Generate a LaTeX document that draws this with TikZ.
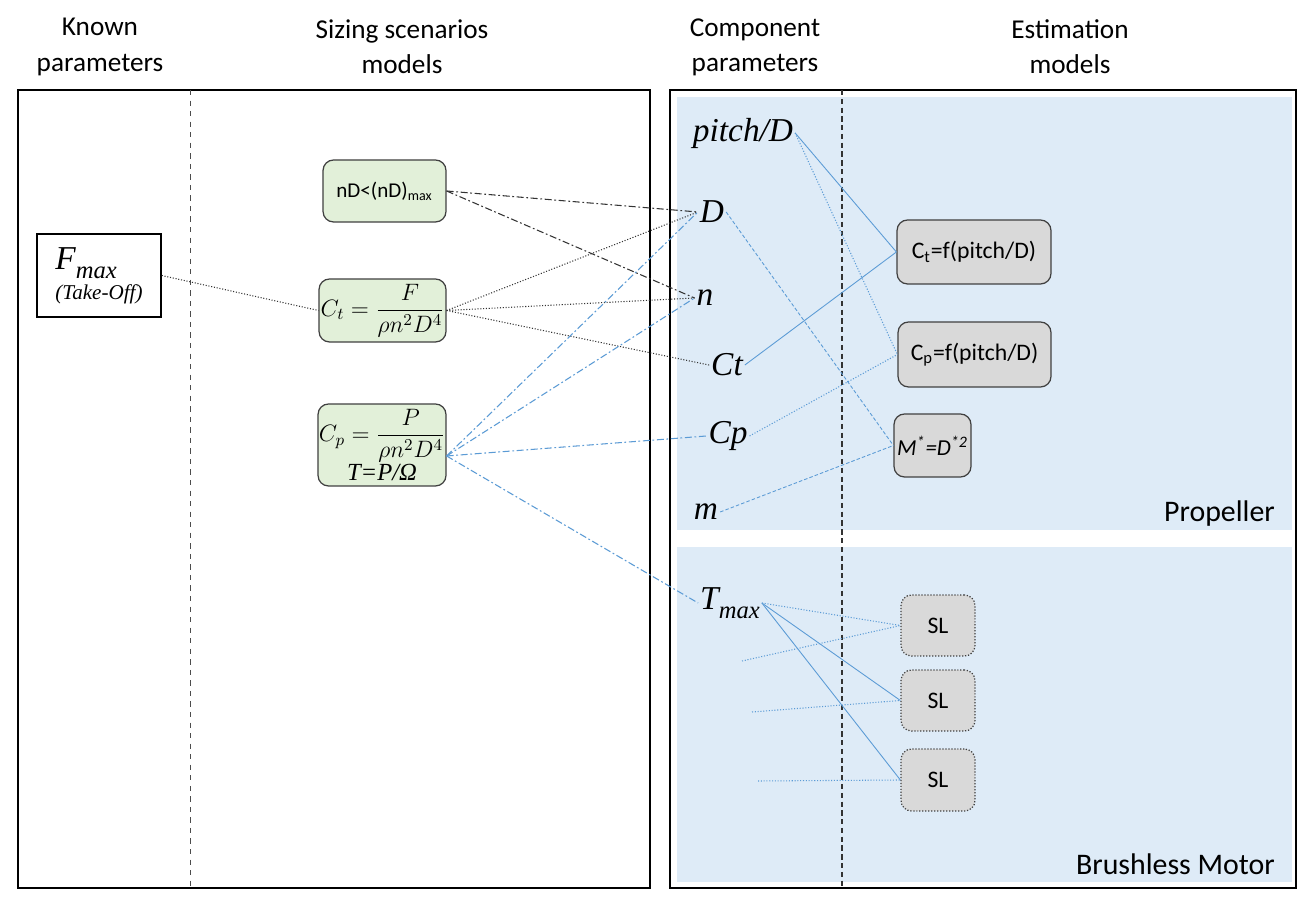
\documentclass[tikz,border=0pt]{standalone}
\usepackage{fix-cm}
\usepackage{fontspec}
\setmainfont{Carlito}
\newfontfamily\tnr{Liberation Serif}
\usetikzlibrary{calc}
\definecolor{panelblue}{HTML}{DEEBF7}
\definecolor{boxgreen}{HTML}{E2F0D9}
\definecolor{boxgray}{HTML}{D9D9D9}
\definecolor{lineblue}{HTML}{5B9BD5}
\tikzset{
  hdr/.style={align=center,font=\fontsize{15.5}{20}\selectfont},
  greenbox/.style={draw=black!75,fill=boxgreen,rounded corners=6pt,line width=0.7pt,inner sep=0pt},
  graybox/.style={draw=black!75,fill=boxgray,rounded corners=6pt,line width=0.7pt,inner sep=0pt,font=\fontsize{13.5}{16}\selectfont},
  slbox/.style={graybox,densely dotted},
  param/.style={font=\tnr\itshape\fontsize{19}{22}\selectfont,inner sep=1pt},
  blk/.style={black!80,densely dotted,line width=0.6pt},
  blkdd/.style={black!80,dash pattern=on 4pt off 1.5pt on 1pt off 1.5pt,line width=0.6pt},
  bluedd/.style={lineblue,dash pattern=on 4pt off 1.5pt on 1pt off 1.5pt,line width=0.6pt},
  bluesolid/.style={lineblue,line width=0.5pt},
  bluedot/.style={lineblue,densely dotted,line width=0.6pt},
  bluedash/.style={lineblue,dash pattern=on 2pt off 1.2pt,line width=0.5pt},
}
\begin{document}
\begin{tikzpicture}[x={(0.02cm,0)},y={(0,-0.02cm)}]
\useasboundingbox[fill=white] (0,0) rectangle (1302,901);
% headers
\node[hdr] (h1) at (100,47) {Known\\parameters};
\node[hdr] (h2) at (402,47) {Sizing scenarios\\models};
\node[hdr] (h3) at (755,47) {Component\\parameters};
\node[hdr] (h4) at (1070,47) {Estimation\\models};
% frames
\draw[line width=1.1pt] (18,90) rectangle (650,888);
\draw[line width=1.1pt] (670,90) rectangle (1296,888);
\fill[panelblue] (677,97) rectangle (1292,530);
\fill[panelblue] (677,547) rectangle (1292,882);
\draw[black!70,dashed,line width=0.4pt] (190,90) -- (190,888);
\draw[black!80,densely dashed,line width=0.6pt] (842,90) -- (842,888);
\node[anchor=east,font=\fontsize{17}{20}\selectfont] (prop) at (1281,514) {Propeller};
\node[anchor=east,font=\fontsize{17}{20}\selectfont] (motor) at (1281,864) {Brushless Motor};
% known parameter
\node[draw,line width=0.9pt,minimum width=2.48cm,minimum height=1.66cm,inner sep=0pt,align=left,
      font=\tnr\itshape\fontsize{12}{14}\selectfont] (Fmax) at (99,275.5)
  {{\fontsize{19}{22}\selectfont F\raisebox{-0.6ex}{\fontsize{14}{16}\selectfont max}}\\[3pt]
   (Take-Off)};
% sizing models
\node[greenbox,minimum width=2.46cm,minimum height=1.24cm,font=\fontsize{12}{14}\selectfont] (nD) at (384.5,191)
  {nD<(nD)\textsubscript{max}};
\node[greenbox,minimum width=2.54cm,minimum height=1.26cm,font=\fontsize{13.5}{16}\selectfont] (Ctbox) at (382.5,310.5)
  {$\displaystyle C_t=\frac{F}{\rho n^2D^4}$};
\node[greenbox,minimum width=2.56cm,minimum height=1.64cm,align=center,font=\fontsize{13.5}{16}\selectfont] (Cpbox) at (382,445)
  {$\displaystyle C_p=\frac{P}{\rho n^2D^4}$\\[0pt]
   {\tnr\itshape\fontsize{14}{15}\selectfont T=P/Ω}};
% component parameters
\node[param] (pD) at (743,133) {pitch/D};
\node[param] (D) at (712,212) {D};
\node[param] (n) at (705,298) {n};
\node[param] (Ct) at (727,365) {Ct};
\node[param] (Cp) at (728,436) {Cp};
\node[param] (m) at (706,512) {m};
\node[param] (Tmax) at (730,603) {T\raisebox{-0.6ex}{\fontsize{14}{16}\selectfont max}};
% estimation models
\node[graybox,minimum width=3.08cm,minimum height=1.28cm] (CtF) at (974,252) {C\textsubscript{t}=f(pitch/D)};
\node[graybox,minimum width=3.06cm,minimum height=1.3cm] (CpF) at (974.5,354.5) {C\textsubscript{p}=f(pitch/D)};
\node[graybox,minimum width=1.54cm,minimum height=1.26cm,font=\fontsize{13}{15}\selectfont] (Mbox) at (932.5,445.5) {\itshape M\textsuperscript{*}=D\textsuperscript{*2}};
\node[slbox,minimum width=1.48cm,minimum height=1.22cm] (SL1) at (938,625.5) {SL};
\node[slbox,minimum width=1.48cm,minimum height=1.22cm] (SL2) at (938,700.5) {SL};
\node[slbox,minimum width=1.48cm,minimum height=1.24cm] (SL3) at (938,780) {SL};
\coordinate (f1) at (742,661);
\coordinate (f2) at (752,712);
\coordinate (f3) at (758,781);
% black connectors
\draw[blk] (Fmax.east) -- (Ctbox.west);
\draw[blkdd] (nD.east) -- (D.west);
\draw[blkdd] (nD.east) -- (n.west);
\draw[blk] (Ctbox.east) -- (D.west);
\draw[blk] (Ctbox.east) -- (n.west);
\draw[blk] (Ctbox.east) -- (Ct.west);
% blue connectors from Cp model
\draw[bluedd] ([yshift=-0.22cm]Cpbox.east) -- (D.west);
\draw[bluedd] ([yshift=-0.22cm]Cpbox.east) -- (n.west);
\draw[bluedd] ([yshift=-0.22cm]Cpbox.east) -- (Cp.west);
\draw[bluedd] ([yshift=-0.22cm]Cpbox.east) -- (Tmax.west);
% estimation connectors
\draw[bluesolid] (pD.east) -- (CtF.west);
\draw[bluedot] (pD.east) -- (CpF.west);
\draw[bluesolid] (Ct.east) -- (CtF.west);
\draw[bluedot] (Cp.east) -- (CpF.west);
\draw[bluedash] (D.east) -- (Mbox.west);
\draw[bluedash] (m.east) -- (Mbox.west);
\draw[bluedot] (Tmax.east) -- (SL1.west);
\draw[bluesolid] (Tmax.east) -- (SL2.west);
\draw[bluesolid] (Tmax.east) -- (SL3.west);
\draw[bluedot] (f1) -- (SL1.west);
\draw[bluedot] (f2) -- (SL2.west);
\draw[bluedot] (f3) -- (SL3.west);
\end{tikzpicture}
\end{document}
